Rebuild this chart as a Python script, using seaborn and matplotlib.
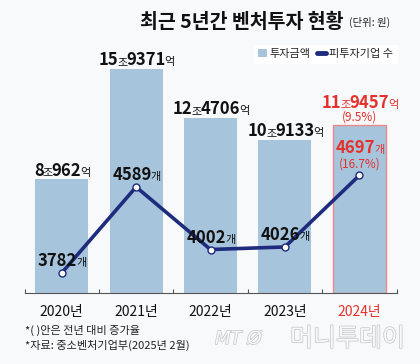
import re
import numpy as np
import pandas as pd
import matplotlib
matplotlib.use("Agg")
import matplotlib.pyplot as plt
import matplotlib.patheffects as pe
from matplotlib.patches import Patch
from matplotlib.lines import Line2D
import seaborn as sns

# ── Data ─────────────────────────────────────────────────────────────────────
years        = ["2020년", "2021년", "2022년", "2023년", "2024년"]
invest       = [8.0962, 15.9371, 12.4706, 10.9133, 11.9457]   # 조원
invest_text  = ["8조962억", "15조9371억", "12조4706억", "10조9133억", "11조9457억"]
firms        = [3782, 4589, 4002, 4026, 4697]
firms_text   = ["3782개", "4589개", "4002개", "4026개", "4697개"]
invest_growth = "(9.5%)"
firms_growth  = "(16.7%)"

# ── Style ────────────────────────────────────────────────────────────────────
sns.set_style("white")
BG    = "#F8F9FB"
BAR   = "#A6C5DC"
NAVY  = "#1F2B7C"
RED   = "#E5312B"
KR    = ["Noto Sans CJK KR", "DejaVu Sans"]
NUM   = ["Liberation Sans Narrow", "Noto Sans CJK KR", "DejaVu Sans"]
plt.rcParams["font.family"] = KR

DPI = 100
fig = plt.figure(figsize=(4.2, 3.64), dpi=DPI, facecolor=BG)
W, H = 420, 364
ax = fig.add_axes([24.5 / W, 1 - 293 / H, 372 / W, (293 - 50) / H])
ax.set_facecolor(BG)

# bars
sns.barplot(x=years, y=invest, ax=ax, color=BAR, saturation=1, width=0.71)
for p in ax.patches:
    p.set_linewidth(0)
last = ax.patches[len(years) - 1]
last.set_edgecolor("#EB8A86")
last.set_linewidth(1.0)
ax.set_ylim(0, 17.28)

# line on twin axis
ax2 = ax.twinx()
sns.lineplot(x=years, y=firms, ax=ax2, sort=False, color=NAVY, linewidth=2.6,
             marker="o", markersize=5, markerfacecolor="white",
             markeredgecolor=NAVY, markeredgewidth=1.0, legend=False)
ax2.set_ylim(3594, 5874)

for a in (ax, ax2):
    a.set_xlim(-0.5, 4.5)
    a.set_yticks([])
    a.set_ylabel("")
    for s in ("top", "right", "left"):
        a.spines[s].set_visible(False)
ax2.spines["bottom"].set_visible(False)
ax.spines["bottom"].set_color("#555555")
ax.spines["bottom"].set_linewidth(0.8)

ax.set_xticks(np.arange(-0.5, 5, 1.0))
ax.set_xticklabels([])
ax.tick_params(axis="x", which="major", direction="in", length=3,
               color="#555555", width=0.8, bottom=True)
ax.set_xticks(range(len(years)), minor=True)
ax.set_xticklabels(years, minor=True, fontsize=10, color="#111111")
ax.tick_params(axis="x", which="minor", length=0, pad=8.5)
ax.get_xticklabels(minor=True)[-1].set_color(RED)


# ── Mixed-size labels ────────────────────────────────────────────────────────
renderer = fig.canvas.get_renderer()


def rich(target, x, y, text, dy, color, big=12, small=8):
    parts = re.findall(r"\d+|\D+", text)
    styles, widths = [], []
    for s in parts:
        if s.isdigit():
            styles.append(dict(fontsize=big, fontweight="bold", family=NUM))
        else:
            styles.append(dict(fontsize=small, fontweight="normal", family=KR))
    for s, st in zip(parts, styles):
        t = fig.text(0, 0, s, **st)
        w = t.get_window_extent(renderer).width
        t.remove()
        # hangul side bearings make the pieces look loose; pull them in
        widths.append(w if s.isdigit() else w - 2.0)
    xoff = -sum(widths) / 2
    for s, st, w in zip(parts, styles, widths):
        shift = 0 if s.isdigit() else -0.8
        target.annotate(s, (x, y), xytext=((xoff + shift) * 72 / DPI, dy),
                        textcoords="offset points", ha="left", va="baseline",
                        color=color, **st)
        xoff += w


for i, (v, txt) in enumerate(zip(invest, invest_text)):
    last_one = i == len(years) - 1
    rich(ax, i, v, txt, 12.5 if last_one else 2.5, RED if last_one else "#111111")
ax.annotate(invest_growth, (4, invest[4]), xytext=(0, 3), textcoords="offset points",
            ha="center", va="baseline", fontsize=8.5, color=RED)

for i, (v, txt) in enumerate(zip(firms, firms_text)):
    last_one = i == len(years) - 1
    rich(ax2, i, v, txt, 16 if last_one else 5, RED if last_one else "#111111")
ax2.annotate(firms_growth, (4, firms[4]), xytext=(0, 6), textcoords="offset points",
             ha="center", va="baseline", fontsize=8.5, color=RED)

# ── Title, legend, notes ─────────────────────────────────────────────────────
fig.text(343 / W, 1 - 22 / H, "최근 5년간 벤처투자 현황", ha="right", va="center",
         fontsize=14, fontweight="heavy", color="#111111")
fig.text(349 / W, 1 - 22 / H, "(단위: 원)", ha="left", va="center",
         fontsize=7.5, color="#222222")

handles = [Patch(facecolor=BAR, edgecolor="none", label="투자금액"),
           Line2D([0], [0], color=NAVY, linewidth=3.5, label="피투자기업 수")]
leg = fig.legend(handles=handles, loc="upper right", ncol=2,
                 bbox_to_anchor=(397 / W, 1 - 45 / H), bbox_transform=fig.transFigure,
                 fontsize=8, frameon=True, fancybox=False, framealpha=1,
                 edgecolor="white", facecolor="white", borderpad=0.35,
                 handlelength=0.8, handleheight=0.8, handletextpad=0.25,
                 columnspacing=0.6, borderaxespad=0)

fig.text(25 / W, 1 - 330 / H, "*( )안은 전년 대비 증가율", ha="left", va="center",
         fontsize=8, color="#222222")
fig.text(25 / W, 1 - 345 / H, "*자료: 중소벤처기업부(2025년 2월)", ha="left", va="center",
         fontsize=8, color="#222222")

outline = [pe.withStroke(linewidth=1.0, foreground="#C4C4C4")]
fig.text(215 / W, 1 - 339 / H, "MT Ø", ha="left", va="center", fontsize=13,
         style="italic", family=["DejaVu Sans"], color=BG, path_effects=outline)
fig.text(405 / W, 1 - 339 / H, "머니투데이", ha="right", va="center", fontsize=18,
         color=BG, path_effects=outline)

fig.savefig("out.png", dpi=DPI, facecolor=BG)
